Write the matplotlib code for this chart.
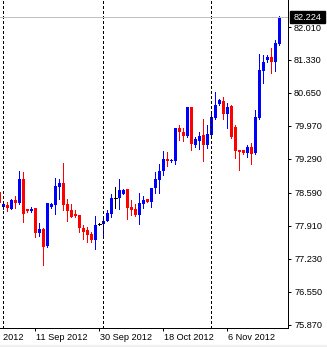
import matplotlib
matplotlib.use("Agg")
import matplotlib.pyplot as plt
import pandas as pd
from matplotlib.transforms import blended_transform_factory, ScaledTranslation
from matplotlib.patches import Rectangle

# ---- data (USD/JPY daily, broker calendar Sun-Fri) ----
dates = pd.bdate_range("2012-08-31", "2012-11-21", freq="C",
                       weekmask="Sun Mon Tue Wed Thu Fri")

opens = [78.614, 78.299, 78.340, 78.264, 78.443, 78.388, 78.876,
         78.258, 78.217, 78.285, 77.769, 77.845, 77.501,
         78.293, 78.340, 78.711, 78.794, 78.361, 78.237,
         78.155, 78.134, 77.866, 77.825, 77.748, 77.625,
         77.948, 77.948, 78.017, 78.161, 78.485, 78.485,
         78.573, 78.670, 78.299, 78.258, 78.134, 78.361,
         78.464, 78.408, 78.685, 78.856, 79.047, 79.289,
         79.247, 79.247, 79.928, 79.852, 79.769, 80.355,
         79.571, 79.654, 79.784, 79.571, 79.784, 80.140,
         80.417, 80.491, 80.217, 80.381, 79.955, 79.474,
         79.474, 79.419, 79.536, 79.419, 80.140, 81.109,
         81.330, 81.392, 81.295, 81.660]
highs = [78.650, 78.381, 78.402, 78.470, 78.532, 79.041, 79.027,
         78.258, 78.299, 78.285, 77.969, 77.872, 78.388,
         78.375, 78.891, 78.876, 79.206, 78.464, 78.361,
         78.231, 78.134, 77.928, 77.893, 77.790, 78.113,
         77.969, 78.052, 78.231, 78.567, 78.718, 78.876,
         78.670, 78.670, 78.443, 78.361, 78.588, 78.532,
         78.464, 78.691, 79.027, 79.179, 79.454, 79.433,
         79.289, 79.934, 79.996, 79.918, 80.355, 80.367,
         79.748, 79.839, 80.113, 79.984, 80.285, 80.670,
         80.526, 80.567, 80.437, 80.402, 79.990, 79.474,
         79.474, 79.584, 79.625, 80.299, 81.454, 81.439,
         81.439, 81.584, 81.742, 82.243]
lows = [78.340, 78.258, 78.223, 78.258, 78.272, 78.367, 77.996,
        78.190, 78.190, 77.687, 77.695, 77.103, 77.480,
        78.272, 78.155, 78.470, 78.237, 78.017, 78.099,
        78.087, 77.790, 77.639, 77.584, 77.584, 77.427,
        77.922, 77.701, 78.000, 78.099, 78.278, 78.258,
        78.567, 78.052, 78.128, 78.120, 77.942, 78.272,
        78.408, 78.299, 78.594, 78.594, 78.959, 79.151,
        79.221, 79.186, 79.680, 79.660, 79.748, 79.474,
        79.542, 79.501, 79.254, 79.509, 79.777, 80.107,
        80.396, 80.113, 79.934, 79.728, 79.303, 79.062,
        79.392, 79.336, 79.186, 79.392, 80.107, 80.862,
        81.295, 81.056, 81.103, 81.633]
closes = [78.375, 78.355, 78.285, 78.450, 78.388, 78.876, 78.155,
          78.217, 78.258, 77.769, 77.845, 77.480, 78.375,
          78.355, 78.726, 78.794, 78.346, 78.223, 78.099,
          78.113, 77.860, 77.790, 77.728, 77.625, 77.928,
          77.948, 78.010, 78.175, 78.485, 78.485, 78.650,
          78.650, 78.285, 78.237, 78.134, 78.381, 78.443,
          78.408, 78.691, 78.870, 79.047, 79.289, 79.241,
          79.274, 79.928, 79.852, 79.769, 80.355, 79.598,
          79.707, 79.769, 79.571, 79.804, 80.155, 80.408,
          80.505, 80.217, 80.361, 79.736, 79.460, 79.433,
          79.419, 79.536, 79.392, 80.148, 81.124, 81.295,
          81.392, 81.289, 81.680, 82.224]

y_ticks = [82.010, 81.330, 80.650, 79.970, 79.290, 78.590,
           77.910, 77.230, 76.550, 75.870]
x_label_dates = ["2012-08-23", "2012-09-11", "2012-09-30",
                 "2012-10-18", "2012-11-06"]
x_labels = ["23 Aug 2012", "11 Sep 2012", "30 Sep 2012",
            "18 Oct 2012", "6 Nov 2012"]
current_price = 82.224

UP, DOWN, DOJI = "#0000ff", "#ff0000", "#000000"
FONT = "Liberation Sans"

# ---- figure ----
W, H = 327, 347
fig = plt.figure(figsize=(W / 100, H / 100), dpi=100)
fig.patch.set_facecolor("white")
ax = fig.add_axes([0, 19 / H, 288 / W, 328 / H])

px = 0.72  # one pixel in points
n = len(dates)
xs = list(range(n))

for i in xs:
    o, h, l, c = opens[i], highs[i], lows[i], closes[i]
    col = UP if c > o else (DOWN if c < o else DOJI)
    ax.vlines(i, l, h, color=col, lw=px, antialiased=False)
    if c == o:
        ax.hlines(o, i - 0.4, i + 0.4, color=col, lw=px, antialiased=False)
    else:
        hgt = max(abs(c - o), 0.02)
        ax.bar(i, hgt, bottom=min(o, c), width=0.75, color=col, lw=0)

# month separators
for i in range(1, n):
    if dates[i].month != dates[i - 1].month:
        ax.axvline(i, color="black", lw=px, dashes=(2.16, 2.16),
                   antialiased=False)

# current price line
ax.axhline(current_price, color="#c0c0c0", lw=px, antialiased=False)

ax.set_xlim(0.175, 72.175)
ax.set_ylim(75.804, 82.567)

for s in ["left", "top"]:
    ax.spines[s].set_visible(False)
for s in ["right", "bottom"]:
    ax.spines[s].set_linewidth(px)

ax.yaxis.tick_right()
ax.set_yticks(y_ticks)
ax.set_yticklabels([f"{v:.3f}" for v in y_ticks], fontsize=6.6,
                   family=FONT)
ax.tick_params(axis="y", length=2.2, width=px, pad=2.2)

# x tick positions (bar index relative to first date)
cal = dict(freq="C", weekmask="Sun Mon Tue Wed Thu Fri")
def bar_index(d):
    d = pd.Timestamp(d)
    if d >= dates[0]:
        return len(pd.bdate_range(dates[0], d, **cal)) - 1
    return -(len(pd.bdate_range(d, dates[0], **cal)) - 1)

xpos = [bar_index(d) for d in x_label_dates]
ax.set_xticks([p for p in xpos if p >= 0])
ax.set_xticklabels([])
ax.tick_params(axis="x", length=2.2, width=px)

trans = blended_transform_factory(ax.transData, ax.transAxes) + \
    ScaledTranslation(1 / 100, -12 / 100, fig.dpi_scale_trans)
for p, lab in zip(xpos, x_labels):
    ax.text(p, 0, lab, transform=trans, ha="left", va="baseline",
            fontsize=6.6, family=FONT, clip_on=False)

# current price box
fig.patches.append(Rectangle((290 / W, 1 - 23 / H), 35 / W, 12 / H,
                             transform=fig.transFigure, color="black"))
fig.text(307.5 / W, 1 - 17 / H, f"{current_price:.3f}", color="white",
         ha="center", va="center", fontsize=6.6, family=FONT)

# bottom strip
fig.patches.append(Rectangle((0, 0), 1, 2 / H, transform=fig.transFigure,
                             color="#f0f0f0"))

fig.savefig("out.png", dpi=100)
